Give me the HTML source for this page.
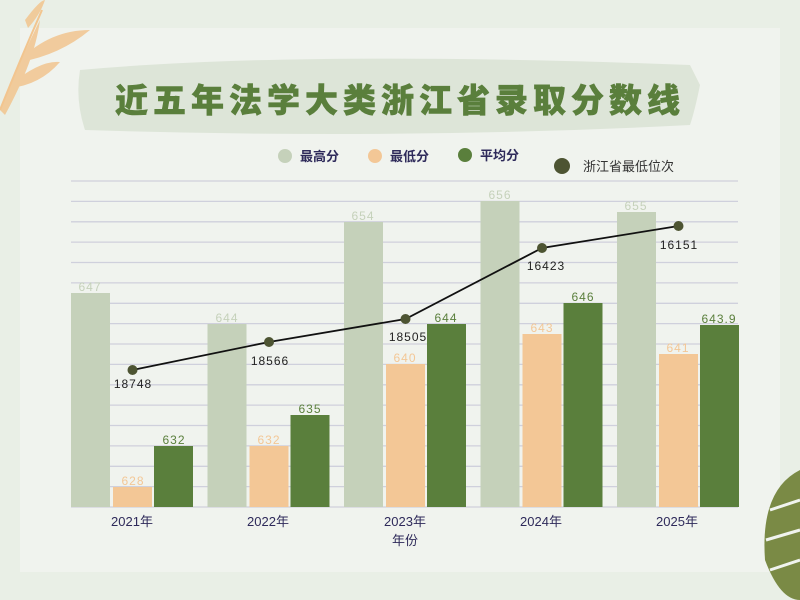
<!DOCTYPE html>
<html><head><meta charset="utf-8"><style>
html,body{margin:0;padding:0;background:#e9efe6;}
svg{display:block;font-family:"Liberation Sans","Noto Sans CJK SC",sans-serif;}
</style></head><body>
<svg width="800" height="600" viewBox="0 0 800 600">
<rect width="800" height="600" fill="#e9efe6"/>
<rect x="20" y="28" width="760" height="544" fill="#f0f3ee"/>
<g fill="#f2c58f" opacity="0.85">
<path d="M0,110 Q20,60 40,20 Q35,60 5,115Z"/>
<path d="M20,60 Q50,30 90,30 Q60,55 20,62Z"/>
<path d="M10,85 Q40,60 60,62 Q40,85 10,88Z"/>
<path d="M25,20 Q40,0 45,0 Q40,15 28,28Z"/>
</g>
<path d="M0,110 Q20,60 42,10" stroke="#f2c58f" stroke-width="2" fill="none"/>
<path d="M800,470 Q760,490 765,560 Q780,600 800,600Z" fill="#7a8a45"/>
<g stroke="#f0f3ee" stroke-width="3"><line x1="770" y1="510" x2="800" y2="500"/><line x1="766" y1="540" x2="800" y2="530"/><line x1="770" y1="570" x2="800" y2="560"/></g>
<path d="M80,70 Q300,50 690,65 L700,85 Q695,110 690,125 Q400,140 85,130 Q75,100 80,70Z" fill="#dde5d8"/>
<text x="400" y="112" text-anchor="middle" font-size="33" font-weight="900" fill="#5a7f3c" stroke="#5a7f3c" stroke-width="0.6" letter-spacing="5">近五年法学大类浙江省录取分数线</text>
<g font-size="13" fill="#2e2a5a" font-weight="bold">
<circle cx="285" cy="156" r="7" fill="#c5d1ba"/><text x="300" y="161">最高分</text>
<circle cx="375" cy="156" r="7" fill="#f3c796"/><text x="390" y="161">最低分</text>
<circle cx="465" cy="155" r="7" fill="#5a7f3c"/><text x="480" y="160">平均分</text>
<circle cx="562" cy="166" r="8" fill="#4d5432"/><text x="583" y="171" fill="#333" font-weight="normal">浙江省最低位次</text>
</g>
<g stroke="#cfd0dc" stroke-width="1.3">
<line x1="71" x2="738" y1="181" y2="181"/><line x1="71" x2="738" y1="201.4" y2="201.4"/><line x1="71" x2="738" y1="221.8" y2="221.8"/><line x1="71" x2="738" y1="242.1" y2="242.1"/><line x1="71" x2="738" y1="262.5" y2="262.5"/><line x1="71" x2="738" y1="282.9" y2="282.9"/><line x1="71" x2="738" y1="303.3" y2="303.3"/><line x1="71" x2="738" y1="323.6" y2="323.6"/><line x1="71" x2="738" y1="344" y2="344"/><line x1="71" x2="738" y1="364.4" y2="364.4"/><line x1="71" x2="738" y1="384.8" y2="384.8"/><line x1="71" x2="738" y1="405.1" y2="405.1"/><line x1="71" x2="738" y1="425.5" y2="425.5"/><line x1="71" x2="738" y1="445.9" y2="445.9"/><line x1="71" x2="738" y1="466.3" y2="466.3"/><line x1="71" x2="738" y1="486.6" y2="486.6"/><line x1="71" x2="738" y1="507" y2="507"/>
</g>
<g>
<rect x="71" y="293" width="39" height="214" fill="#c5d1ba"/>
<rect x="113" y="487" width="39" height="20" fill="#f3c796"/>
<rect x="154" y="446" width="39" height="61" fill="#5a7f3c"/>
<rect x="207.5" y="324" width="39" height="183" fill="#c5d1ba"/>
<rect x="249.5" y="446" width="39" height="61" fill="#f3c796"/>
<rect x="290.5" y="415" width="39" height="92" fill="#5a7f3c"/>
<rect x="344" y="222" width="39" height="285" fill="#c5d1ba"/>
<rect x="386" y="364" width="39" height="143" fill="#f3c796"/>
<rect x="427" y="324" width="39" height="183" fill="#5a7f3c"/>
<rect x="480.5" y="201" width="39" height="306" fill="#c5d1ba"/>
<rect x="522.5" y="334" width="39" height="173" fill="#f3c796"/>
<rect x="563.5" y="303" width="39" height="204" fill="#5a7f3c"/>
<rect x="617" y="212" width="39" height="295" fill="#c5d1ba"/>
<rect x="659" y="354" width="39" height="153" fill="#f3c796"/>
<rect x="700" y="325" width="39" height="182" fill="#5a7f3c"/>
</g>
<g font-size="12" text-anchor="middle" letter-spacing="1">
<g fill="#c5d1ba"><text x="90" y="291">647</text><text x="227" y="322">644</text><text x="363" y="220">654</text><text x="500" y="199">656</text><text x="636" y="210">655</text></g>
<g fill="#f3c796"><text x="133" y="485">628</text><text x="269" y="444">632</text><text x="405" y="362">640</text><text x="542" y="332">643</text><text x="678" y="352">641</text></g>
<g fill="#5a7f3c"><text x="174" y="444">632</text><text x="310" y="413">635</text><text x="446" y="322">644</text><text x="583" y="301">646</text><text x="719" y="323">643.9</text></g>
</g>
<polyline points="132.5,370 269,342 405.5,319 542,248 678.5,226" fill="none" stroke="#111" stroke-width="1.8"/>
<g fill="#4d5432"><circle cx="132.5" cy="370" r="5"/><circle cx="269" cy="342" r="5"/><circle cx="405.5" cy="319" r="5"/><circle cx="542" cy="248" r="5"/><circle cx="678.5" cy="226" r="5"/></g>
<g font-size="12" fill="#222" text-anchor="middle" letter-spacing="1">
<text x="133" y="388">18748</text><text x="270" y="365">18566</text><text x="408" y="341">18505</text><text x="546" y="270">16423</text><text x="679" y="249">16151</text>
</g>
<g font-size="13" fill="#2e2a5a" text-anchor="middle">
<text x="132" y="526">2021年</text><text x="268" y="526">2022年</text><text x="405" y="526">2023年</text><text x="541" y="526">2024年</text><text x="677" y="526">2025年</text>
<text x="405" y="545">年份</text>
</g>
</svg>
</body></html>
